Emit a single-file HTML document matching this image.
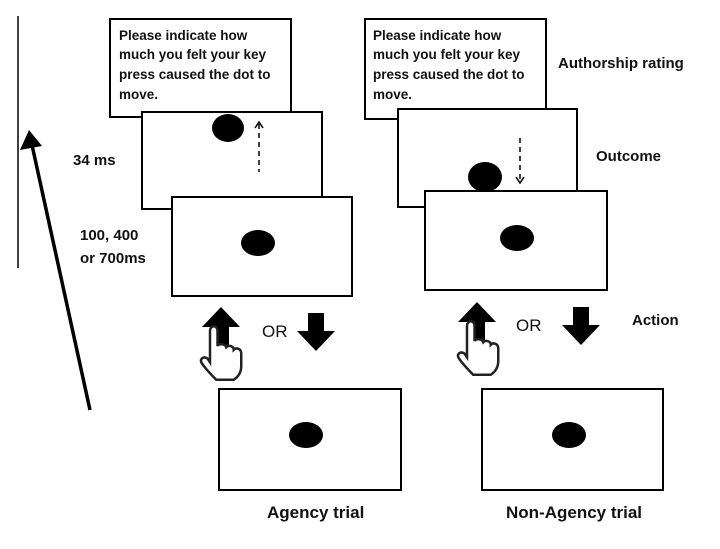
<!DOCTYPE html>
<html><head><style>
body{margin:0;background:#fff;}
svg text{font-family:"Liberation Sans",sans-serif;}
</style></head><body>
<svg width="720" height="544" viewBox="0 0 720 544" xmlns="http://www.w3.org/2000/svg">
<defs>
<g id="hand"><path d="M6 0 c3 0 4 2 4 4 v12 c1-2 6-2 7 1 c2-2 6-1 6 2 c2-2 6-1 6 3 v10 c0 6-3 9-6 11 h-14 c-3-3-9-9-12-14 c-1-3 2-5 5-3 l2 3 v-25 c0-2 1-4 4-4z" fill="#fff" stroke="#222" stroke-width="2"/></g>
<g id="up"><polygon points="0,-20 19,0 8,0 8,18 -8,18 -8,0 -19,0" fill="#000"/></g>
</defs>
<line x1="18" y1="16" x2="18" y2="268" stroke="#000" stroke-width="1.5"/>
<line x1="90" y1="410" x2="32" y2="145" stroke="#000" stroke-width="3.5"/>
<polygon points="29,130 20,150 42,146" fill="#000"/>
<g font-weight="bold" font-size="15" fill="#111">
<text x="73" y="165">34 ms</text>
<text x="80" y="240">100, 400</text>
<text x="80" y="263">or 700ms</text>
<text x="558" y="68">Authorship rating</text>
<text x="596" y="161">Outcome</text>
<text x="632" y="325">Action</text>
<text x="267" y="518" font-size="17">Agency trial</text>
<text x="506" y="518" font-size="17">Non-Agency trial</text>
</g>
<g stroke="#000" stroke-width="2" fill="#fff">
<rect x="110" y="19" width="181" height="98"/>
<rect x="142" y="112" width="180" height="97"/>
<rect x="172" y="197" width="180" height="99"/>
<rect x="365" y="19" width="181" height="100"/>
<rect x="398" y="109" width="179" height="98"/>
<rect x="425" y="191" width="182" height="99"/>
<rect x="219" y="389" width="182" height="101"/>
<rect x="482" y="389" width="181" height="101"/>
</g>
<g font-size="13.5" font-weight="bold" fill="#111">
<text x="119" y="40">Please indicate how</text>
<text x="119" y="59">much you felt your key</text>
<text x="119" y="79">press caused the dot to</text>
<text x="119" y="99">move.</text>
<text x="373" y="40">Please indicate how</text>
<text x="373" y="59">much you felt your key</text>
<text x="373" y="79">press caused the dot to</text>
<text x="373" y="99">move.</text>
</g>
<g fill="#000">
<ellipse cx="228" cy="128" rx="16" ry="14"/>
<ellipse cx="258" cy="243" rx="17" ry="13"/>
<ellipse cx="485" cy="177" rx="17" ry="15"/>
<ellipse cx="517" cy="238" rx="17" ry="13"/>
<ellipse cx="306" cy="435" rx="17" ry="13"/>
<ellipse cx="569" cy="435" rx="17" ry="13"/>
</g>
<line x1="259" y1="124" x2="259" y2="172" stroke="#000" stroke-width="1.5" stroke-dasharray="5,4"/>
<polyline points="255,128 259,122 263,128" fill="none" stroke="#000" stroke-width="1.5"/>
<line x1="520" y1="138" x2="520" y2="182" stroke="#000" stroke-width="1.5" stroke-dasharray="5,4"/>
<polyline points="516,177 520,183 524,177" fill="none" stroke="#000" stroke-width="1.5"/>
<use href="#up" x="221" y="327"/>
<use href="#up" x="477" y="322"/>
<use href="#up" transform="translate(316,331) rotate(180)"/>
<use href="#up" transform="translate(581,325) rotate(180)"/>
<use href="#hand" transform="translate(205,326) scale(1.25)"/>
<use href="#hand" transform="translate(462,321) scale(1.25)"/>
<g font-size="17" fill="#111">
<text x="262" y="337">OR</text>
<text x="516" y="331">OR</text>
</g>
</svg>
</body></html>
